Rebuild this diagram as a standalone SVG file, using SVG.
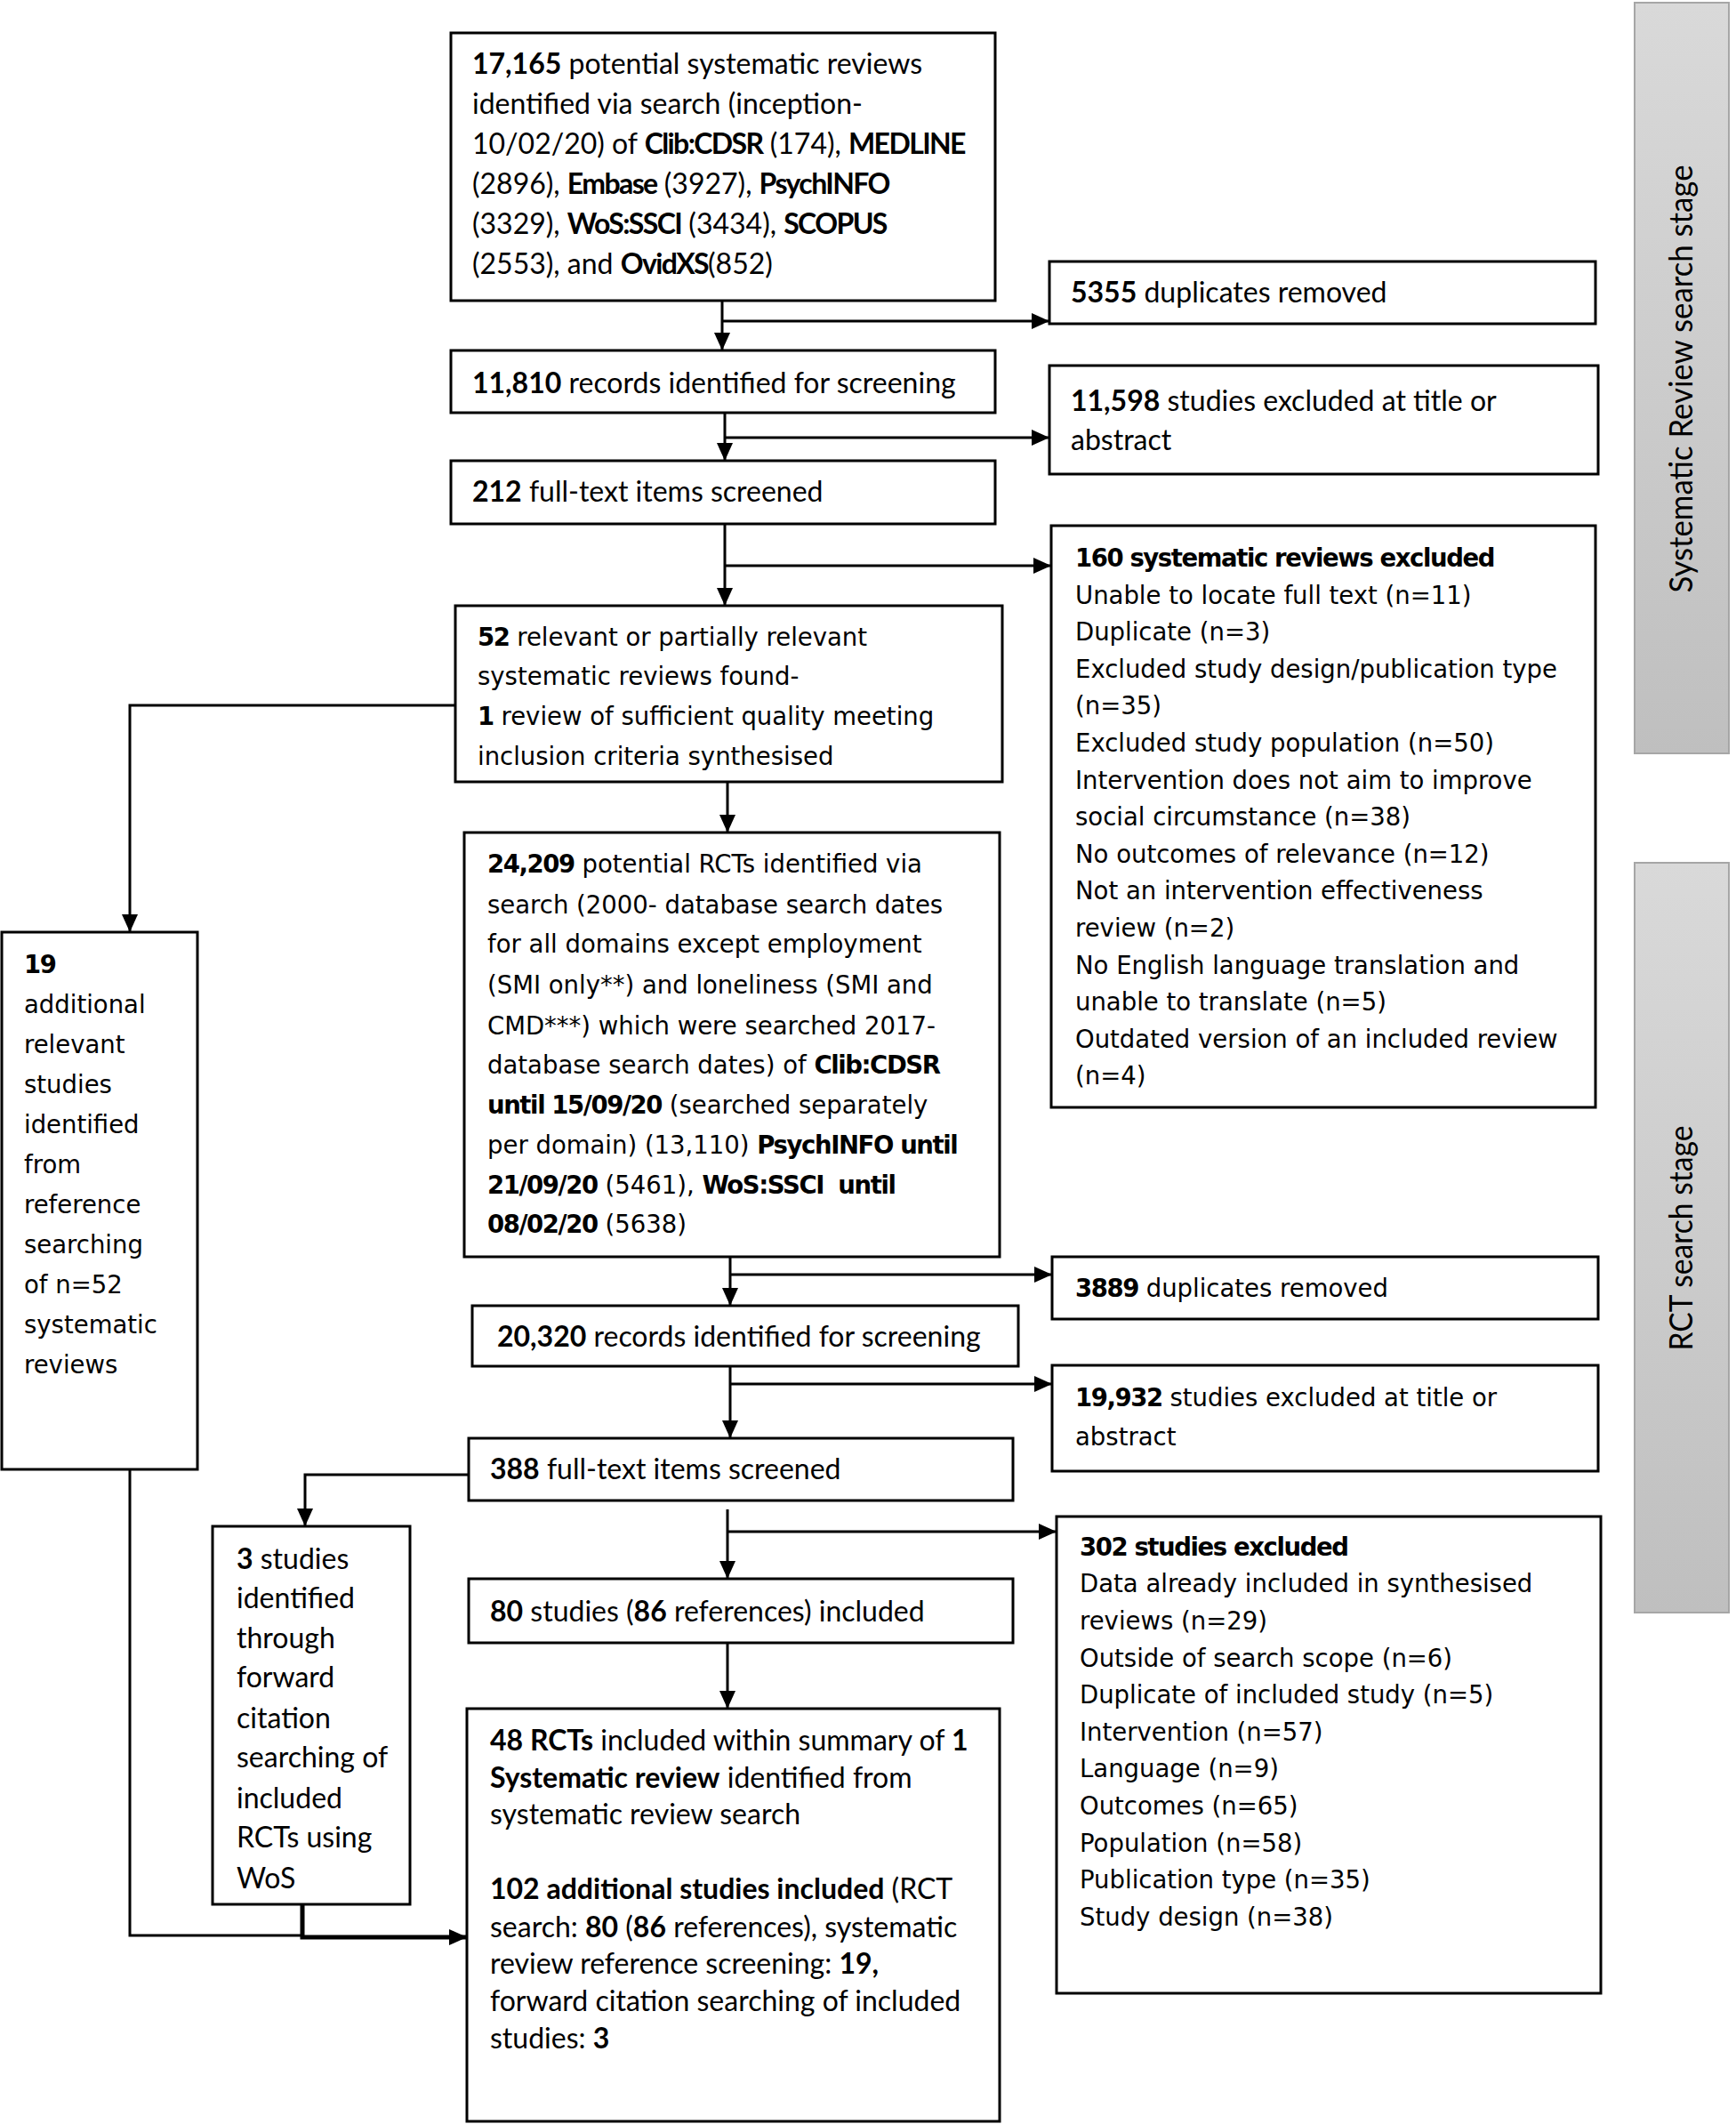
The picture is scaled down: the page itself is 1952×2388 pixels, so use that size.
<svg xmlns="http://www.w3.org/2000/svg" width="1952" height="2388" viewBox="0 0 1952 2388">
<style>
.box{fill:#fff;stroke:#000;stroke-width:3}
.c{font-family:Lato,"Liberation Sans",sans-serif;font-size:32px;fill:#000}
.v{font-family:"DejaVu Sans",Verdana,sans-serif;font-size:27.5px;fill:#000}
.b{font-weight:bold}
.v .b,.v.b{letter-spacing:-1.4px}
.k{letter-spacing:-1.6px}
.ln{fill:none;stroke:#000;stroke-width:3}
.thick{fill:none;stroke:#000;stroke-width:5}
.stage{fill:url(#grad);stroke:#a6a6a6;stroke-width:2}
.st{font-family:Lato,"Liberation Sans",sans-serif;font-size:36px;fill:#000}
</style>
<defs>
<linearGradient id="grad" x1="0" y1="0" x2="0" y2="1">
<stop offset="0" stop-color="#d9d9d9"/>
<stop offset="1" stop-color="#bfbfbf"/>
</linearGradient>
<marker id="ah" viewBox="0 0 20 18" markerWidth="20" markerHeight="18" refX="20" refY="9" orient="auto" markerUnits="userSpaceOnUse">
<path d="M0,0 L20,9 L0,18 z" fill="#000"/>
</marker>
</defs>
<rect width="1952" height="2388" fill="#fff"/>

<g id="stage-sr">
<rect class="stage" x="1838" y="3" width="106" height="844"/>
<text class="st" transform="translate(1903,426) rotate(-90)" text-anchor="middle" textLength="481" lengthAdjust="spacingAndGlyphs">Systematic Review search stage</text>
</g>
<g id="stage-rct">
<rect class="stage" x="1838" y="970" width="106" height="843"/>
<text class="st" transform="translate(1903,1392) rotate(-90)" text-anchor="middle" textLength="253" lengthAdjust="spacingAndGlyphs">RCT search stage</text>
</g>

<g id="connectors">
<path class="ln" d="M812,338 V394" marker-end="url(#ah)"/>
<path class="ln" d="M812,361 H1180" marker-end="url(#ah)"/>
<path class="ln" d="M815,464 V518" marker-end="url(#ah)"/>
<path class="ln" d="M815,492 H1180" marker-end="url(#ah)"/>
<path class="ln" d="M815,589 V681" marker-end="url(#ah)"/>
<path class="ln" d="M815,636 H1182" marker-end="url(#ah)"/>
<path class="ln" d="M512,793 H146 V1048" marker-end="url(#ah)"/>
<path class="ln" d="M818,879 V936" marker-end="url(#ah)"/>
<path class="ln" d="M821,1413 V1468" marker-end="url(#ah)"/>
<path class="ln" d="M821,1433 H1183" marker-end="url(#ah)"/>
<path class="ln" d="M821,1536 V1617" marker-end="url(#ah)"/>
<path class="ln" d="M821,1556 H1183" marker-end="url(#ah)"/>
<path class="ln" d="M527,1658 H343 V1716" marker-end="url(#ah)"/>
<path class="ln" d="M818,1697 V1775" marker-end="url(#ah)"/>
<path class="ln" d="M818,1722 H1188" marker-end="url(#ah)"/>
<path class="ln" d="M818,1847 V1921" marker-end="url(#ah)"/>
<path class="ln" d="M146,1652 V2176 H340"/>
<path class="thick" d="M340,2141 V2178 H525" marker-end="url(#ah)"/>
</g>

<g id="sr-search">
<rect class="box" x="507" y="37" width="612" height="301"/>
<text class="c" x="531" y="83"><tspan class="b">17,165</tspan> potential systematic reviews</text>
<text class="c" x="531" y="128">identified via search (inception-</text>
<text class="c" x="531" y="173">10/02/20) of <tspan class="b k">Clib:CDSR</tspan> (174), <tspan class="b k">MEDLINE</tspan></text>
<text class="c" x="531" y="218">(2896), <tspan class="b k">Embase</tspan> (3927), <tspan class="b k">PsychINFO</tspan></text>
<text class="c" x="531" y="263">(3329), <tspan class="b k">WoS:SSCI</tspan> (3434), <tspan class="b k">SCOPUS</tspan></text>
<text class="c" x="531" y="308">(2553), and <tspan class="b k">OvidXS</tspan>(852)</text>
</g>

<g id="sr-dup">
<rect class="box" x="1180" y="294" width="614" height="70"/>
<text class="c" x="1204" y="340"><tspan class="b">5355</tspan> duplicates removed</text>
</g>

<g id="sr-records">
<rect class="box" x="507" y="394" width="612" height="70"/>
<text class="c" x="531" y="442"><tspan class="b">11,810</tspan> records identified for screening</text>
</g>

<g id="sr-excl-title">
<rect class="box" x="1180" y="411" width="617" height="122"/>
<text class="c" x="1204" y="462"><tspan class="b">11,598</tspan> studies excluded at title or</text>
<text class="c" x="1204" y="506">abstract</text>
</g>

<g id="sr-fulltext">
<rect class="box" x="507" y="518" width="612" height="71"/>
<text class="c" x="531" y="564"><tspan class="b">212</tspan> full-text items screened</text>
</g>

<g id="sr-excl-full">
<rect class="box" x="1182" y="591" width="612" height="654"/>
<text class="v b" x="1209" y="637">160 systematic reviews excluded</text>
<text class="v" x="1209" y="679">Unable to locate full text (n=11)</text>
<text class="v" x="1209" y="720">Duplicate (n=3)</text>
<text class="v" x="1209" y="762">Excluded study design/publication type</text>
<text class="v" x="1209" y="803">(n=35)</text>
<text class="v" x="1209" y="845">Excluded study population (n=50)</text>
<text class="v" x="1209" y="887">Intervention does not aim to improve</text>
<text class="v" x="1209" y="928">social circumstance (n=38)</text>
<text class="v" x="1209" y="970">No outcomes of relevance (n=12)</text>
<text class="v" x="1209" y="1011">Not an intervention effectiveness</text>
<text class="v" x="1209" y="1053">review (n=2)</text>
<text class="v" x="1209" y="1095">No English language translation and</text>
<text class="v" x="1209" y="1136">unable to translate (n=5)</text>
<text class="v" x="1209" y="1178">Outdated version of an included review</text>
<text class="v" x="1209" y="1219">(n=4)</text>
</g>

<g id="sr-relevant">
<rect class="box" x="512" y="681" width="615" height="198"/>
<text class="v" x="537" y="726"><tspan class="b">52</tspan> relevant or partially relevant</text>
<text class="v" x="537" y="770">systematic reviews found-</text>
<text class="v" x="537" y="815"><tspan class="b">1</tspan> review of sufficient quality meeting</text>
<text class="v" x="537" y="860">inclusion criteria synthesised</text>
</g>

<g id="rct-search">
<rect class="box" x="522" y="936" width="602" height="477"/>
<text class="v" x="548" y="981"><tspan class="b">24,209</tspan> potential RCTs identified via</text>
<text class="v" x="548" y="1027">search (2000- database search dates</text>
<text class="v" x="548" y="1071">for all domains except employment</text>
<text class="v" x="548" y="1117">(SMI only**) and loneliness (SMI and</text>
<text class="v" x="548" y="1163">CMD***) which were searched 2017-</text>
<text class="v" x="548" y="1207">database search dates) of <tspan class="b">Clib:CDSR</tspan></text>
<text class="v" x="548" y="1252"><tspan class="b">until 15/09/20</tspan> (searched separately</text>
<text class="v" x="548" y="1297">per domain) (13,110) <tspan class="b">PsychINFO until</tspan></text>
<text class="v" x="548" y="1342" xml:space="preserve"><tspan class="b">21/09/20</tspan> (5461), <tspan class="b">WoS:SSCI  until</tspan></text>
<text class="v" x="548" y="1386"><tspan class="b">08/02/20</tspan> (5638)</text>
</g>

<g id="ref-search">
<rect class="box" x="2" y="1048" width="220" height="604"/>
<text class="v b" x="27" y="1094">19</text>
<text class="v" x="27" y="1139">additional</text>
<text class="v" x="27" y="1184">relevant</text>
<text class="v" x="27" y="1229">studies</text>
<text class="v" x="27" y="1274">identified</text>
<text class="v" x="27" y="1319">from</text>
<text class="v" x="27" y="1364">reference</text>
<text class="v" x="27" y="1409">searching</text>
<text class="v" x="27" y="1454">of n=52</text>
<text class="v" x="27" y="1499">systematic</text>
<text class="v" x="27" y="1544">reviews</text>
</g>

<g id="rct-dup">
<rect class="box" x="1183" y="1413" width="614" height="70"/>
<text class="v" x="1209" y="1458"><tspan class="b">3889</tspan> duplicates removed</text>
</g>

<g id="rct-records">
<rect class="box" x="531" y="1468" width="614" height="68"/>
<text class="c" x="559" y="1514"><tspan class="b">20,320</tspan> records identified for screening</text>
</g>

<g id="rct-excl-title">
<rect class="box" x="1183" y="1535" width="614" height="119"/>
<text class="v" x="1209" y="1581"><tspan class="b">19,932</tspan> studies excluded at title or</text>
<text class="v" x="1209" y="1625">abstract</text>
</g>

<g id="rct-fulltext">
<rect class="box" x="527" y="1617" width="612" height="70"/>
<text class="c" x="551" y="1663"><tspan class="b">388</tspan> full-text items screened</text>
</g>

<g id="rct-excl-full">
<rect class="box" x="1188" y="1705" width="612" height="536"/>
<text class="v b" x="1214" y="1749">302 studies excluded</text>
<text class="v" x="1214" y="1790">Data already included in synthesised</text>
<text class="v" x="1214" y="1832">reviews (n=29)</text>
<text class="v" x="1214" y="1874">Outside of search scope (n=6)</text>
<text class="v" x="1214" y="1915">Duplicate of included study (n=5)</text>
<text class="v" x="1214" y="1957">Intervention (n=57)</text>
<text class="v" x="1214" y="1998">Language (n=9)</text>
<text class="v" x="1214" y="2040">Outcomes (n=65)</text>
<text class="v" x="1214" y="2082">Population (n=58)</text>
<text class="v" x="1214" y="2123">Publication type (n=35)</text>
<text class="v" x="1214" y="2165">Study design (n=38)</text>
</g>

<g id="rct-included">
<rect class="box" x="527" y="1775" width="612" height="72"/>
<text class="c" x="551" y="1823"><tspan class="b">80</tspan> studies (<tspan class="b">86</tspan> references) included</text>
</g>

<g id="forward-citation">
<rect class="box" x="239" y="1716" width="222" height="425"/>
<text class="c" x="266" y="1764"><tspan class="b">3</tspan> studies</text>
<text class="c" x="266" y="1808">identified</text>
<text class="c" x="266" y="1853">through</text>
<text class="c" x="266" y="1897">forward</text>
<text class="c" x="266" y="1943">citation</text>
<text class="c" x="266" y="1987">searching of</text>
<text class="c" x="266" y="2033">included</text>
<text class="c" x="266" y="2077">RCTs using</text>
<text class="c" x="266" y="2123">WoS</text>
</g>

<g id="final">
<rect class="box" x="525" y="1921" width="599" height="464"/>
<text class="c" x="551" y="1968"><tspan class="b">48 RCTs</tspan> included within summary of <tspan class="b">1</tspan></text>
<text class="c" x="551" y="2010"><tspan class="b">Systematic review</tspan> identified from</text>
<text class="c" x="551" y="2051">systematic review search</text>
<text class="c" x="551" y="2135"><tspan class="b">102 additional studies included</tspan> (RCT</text>
<text class="c" x="551" y="2178">search: <tspan class="b">80</tspan> (<tspan class="b">86</tspan> references), systematic</text>
<text class="c" x="551" y="2219">review reference screening: <tspan class="b">19,</tspan></text>
<text class="c" x="551" y="2261">forward citation searching of included</text>
<text class="c" x="551" y="2303">studies: <tspan class="b">3</tspan></text>
</g>
</svg>
